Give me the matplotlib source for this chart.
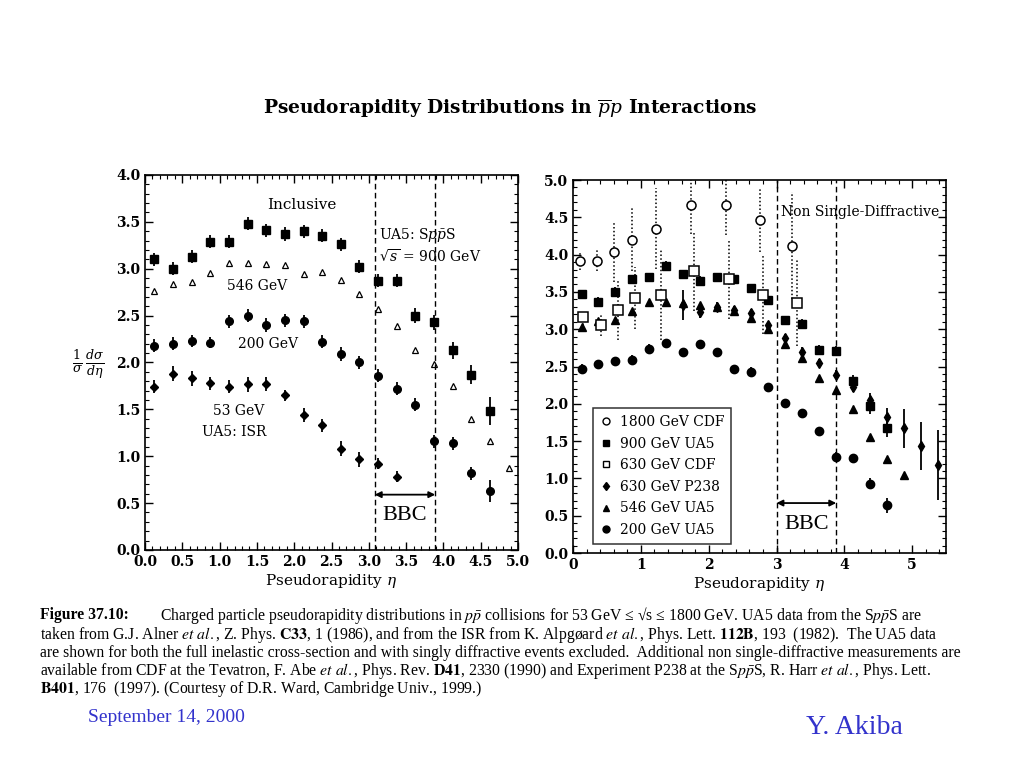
import matplotlib
matplotlib.use('Agg')
import matplotlib.pyplot as plt
from matplotlib.lines import Line2D
from matplotlib.ticker import MultipleLocator, FormatStrFormatter

# ---- left panel: inclusive (UA5 / ISR) ----
eta_left = [0.125, 0.375, 0.625, 0.875, 1.125, 1.375, 1.625, 1.875, 2.125, 2.375,
            2.625, 2.875, 3.125, 3.375, 3.625, 3.875, 4.125, 4.375, 4.625, 4.875]
inc900 = [3.10, 3.00, 3.13, 3.29, 3.29, 3.48, 3.41, 3.37, 3.40, 3.35,
          3.26, 3.02, 2.87, 2.87, 2.50, 2.43, 2.13, 1.87, 1.48]
inc900_err = [0.07, 0.07, 0.07, 0.07, 0.07, 0.07, 0.07, 0.07, 0.07, 0.07,
              0.07, 0.07, 0.07, 0.07, 0.08, 0.08, 0.09, 0.10, 0.15]
inc546 = [2.76, 2.84, 2.86, 2.95, 3.06, 3.06, 3.05, 3.04, 2.94, 2.97,
          2.88, 2.73, 2.57, 2.39, 2.13, 1.98, 1.75, 1.40, 1.16, 0.87]
inc200 = [2.18, 2.20, 2.23, 2.21, 2.44, 2.50, 2.40, 2.45, 2.44, 2.22,
          2.09, 2.00, 1.86, 1.72, 1.55, 1.16, 1.14, 0.82, 0.63]
inc200_err = [0.07, 0.07, 0.06, 0.06, 0.07, 0.07, 0.07, 0.07, 0.07, 0.07,
              0.07, 0.07, 0.07, 0.07, 0.07, 0.07, 0.07, 0.07, 0.12]
isr53 = [1.74, 1.88, 1.83, 1.78, 1.74, 1.77, 1.77, 1.65, 1.44, 1.33,
         1.08, 0.97, 0.92, 0.78]
isr53_err = [0.07, 0.08, 0.08, 0.07, 0.07, 0.08, 0.07, 0.06, 0.07, 0.07,
             0.08, 0.08, 0.06, 0.06]

# ---- right panel: non single-diffractive ----
eta_right = eta_left
nsd900 = [3.47, 3.37, 3.50, 3.67, 3.70, 3.85, 3.74, 3.65, 3.70, 3.67,
          3.55, 3.39, 3.12, 3.07, 2.72, 2.71, 2.31, 1.97, 1.68]
nsd900_err = [0.06, 0.06, 0.07, 0.06, 0.05, 0.06, 0.06, 0.06, 0.05, 0.05,
              0.06, 0.06, 0.06, 0.07, 0.07, 0.06, 0.08, 0.10, 0.12]
nsd546 = [3.03, 3.11, 3.12, 3.25, 3.36, 3.36, 3.35, 3.32, 3.30, 3.24,
          3.15, 3.00, 2.80, 2.62, 2.34, 2.18, 1.93, 1.56, 1.26, 1.05]
nsd200 = [2.47, 2.53, 2.57, 2.59, 2.74, 2.82, 2.70, 2.80, 2.70, 2.47,
          2.43, 2.22, 2.01, 1.88, 1.63, 1.29, 1.27, 0.93, 0.64]
nsd200_err = [0.06, 0.05, 0.05, 0.06, 0.06, 0.05, 0.05, 0.05, 0.05, 0.05,
              0.06, 0.05, 0.05, 0.05, 0.06, 0.06, 0.06, 0.07, 0.10]

eta_cdf1800 = [0.10, 0.36, 0.61, 0.87, 1.23, 1.74, 2.25, 2.75, 3.23]
cdf1800 = [3.92, 3.92, 4.03, 4.20, 4.35, 4.67, 4.66, 4.46, 4.12]
cdf1800_err = [0.12, 0.14, 0.40, 0.42, 0.54, 0.40, 0.40, 0.42, 0.72]

eta_cdf630 = [0.15, 0.41, 0.66, 0.92, 1.29, 1.79, 2.30, 2.80, 3.30]
cdf630 = [3.16, 3.06, 3.26, 3.42, 3.46, 3.78, 3.67, 3.46, 3.35]
cdf630_err = [0.10, 0.15, 0.40, 0.42, 0.60, 0.53, 0.53, 0.53, 0.58]

eta_p238 = [1.625, 1.875, 2.125, 2.375, 2.625, 2.875, 3.125, 3.375, 3.625, 3.875,
            4.125, 4.375, 4.625, 4.875, 5.125, 5.375]
p238 = [3.32, 3.23, 3.30, 3.26, 3.22, 3.05, 2.88, 2.70, 2.55, 2.39,
        2.23, 2.05, 1.83, 1.67, 1.43, 1.18]
p238_err = [0.20, 0.08, 0.06, 0.05, 0.05, 0.05, 0.06, 0.06, 0.05, 0.06,
            0.07, 0.09, 0.12, 0.26, 0.32, 0.47]

legend_labels = ['1800 GeV CDF', '900 GeV UA5', '630 GeV CDF',
                 '630 GeV P238', '546 GeV UA5', '200 GeV UA5']

# BBC acceptance marks
bbc_left = (3.08, 3.89)
bbc_right = (3.0, 3.88)

SERIF = 'DejaVu Serif'
TIMES = 'Liberation Serif'

plt.rcParams['font.family'] = SERIF
plt.rcParams['mathtext.fontset'] = 'dejavuserif'


def style_axes(ax, xmaj, xmin, ymaj, ymin):
    ax.xaxis.set_major_locator(MultipleLocator(xmaj))
    ax.xaxis.set_minor_locator(MultipleLocator(xmin))
    ax.yaxis.set_major_locator(MultipleLocator(ymaj))
    ax.yaxis.set_minor_locator(MultipleLocator(ymin))
    ax.tick_params(which='both', direction='in', top=True, right=True, labelsize=10)
    ax.tick_params(which='major', length=6, width=1)
    ax.tick_params(which='minor', length=3, width=0.8)
    for lbl in ax.get_xticklabels() + ax.get_yticklabels():
        lbl.set_fontweight('bold')
    for s in ax.spines.values():
        s.set_linewidth(1.2)


def err(ax, x, y, e, **kw):
    return ax.errorbar(x[:len(y)], y, yerr=e, fmt=kw.pop('marker'), color='black',
                       ecolor='black', elinewidth=1.3, capsize=0, linestyle='none', **kw)


def bbc(ax, lo, hi, yarrow, ytext):
    ax.axvline(lo, color='black', ls=(0, (4, 2.5)), lw=1)
    ax.axvline(hi, color='black', ls=(0, (4, 2.5)), lw=1)
    ax.annotate('', xy=(hi, yarrow), xytext=(lo, yarrow),
                arrowprops=dict(arrowstyle='<|-|>', color='black', lw=1.3,
                                mutation_scale=9, shrinkA=0, shrinkB=0))
    ax.text((lo + hi) / 2, ytext, 'BBC', family=TIMES, fontsize=16,
            ha='center', va='center')


fig = plt.figure(figsize=(10.24, 7.68), dpi=100)

fig.text(0.498, 0.859, r'Pseudorapidity Distributions in $\overline{p}p$ Interactions',
         fontsize=13.4, fontweight='bold', ha='center', va='center')

# left panel
ax1 = fig.add_axes([0.1416, 0.2839, 0.3643, 0.4883])
err(ax1, eta_left, inc900, inc900_err, marker='s', markersize=5.5)
ax1.plot(eta_left[:len(inc546)], inc546, '^', color='black', mfc='white',
         markersize=5, mew=0.9, linestyle='none')
err(ax1, eta_left, inc200, inc200_err, marker='o', markersize=5.5)
err(ax1, eta_left, isr53, isr53_err, marker='D', markersize=4.5)
ax1.set_xlim(0, 5)
ax1.set_ylim(0, 4)
ax1.xaxis.set_major_formatter(FormatStrFormatter('%.1f'))
ax1.yaxis.set_major_formatter(FormatStrFormatter('%.1f'))
style_axes(ax1, 0.5, 0.1, 0.5, 0.1)
ax1.set_xlabel(r'Pseudorapidity $\eta$', fontsize=11, labelpad=2)
bbc(ax1, bbc_left[0], bbc_left[1], 0.59, 0.37)
ax1.text(2.1, 3.68, 'Inclusive', fontsize=11, ha='center', va='center')
ax1.text(1.5, 2.82, '546 GeV', fontsize=10, ha='center', va='center')
ax1.text(1.65, 2.20, '200 GeV', fontsize=10, ha='center', va='center')
ax1.text(1.25, 1.48, '53 GeV', fontsize=10, ha='center', va='center')
ax1.text(1.2, 1.26, 'UA5: ISR', fontsize=10, ha='center', va='center')
ax1.text(3.13, 3.36, r'UA5: S$p\bar{p}$S', fontsize=10, ha='left', va='center')
ax1.text(3.13, 3.13, r'$\sqrt{s}$ = 900 GeV', fontsize=10, ha='left', va='center')

fig.text(0.086, 0.525, r'$\frac{1}{\sigma}\,\frac{d\sigma}{d\eta}$', fontsize=13,
         ha='center', va='center')

# right panel
ax2 = fig.add_axes([0.5596, 0.2799, 0.3643, 0.4857])
for x, y, e, m in [(eta_cdf1800, cdf1800, cdf1800_err, 'o'),
                   (eta_cdf630, cdf630, cdf630_err, 's')]:
    eb = ax2.errorbar(x, y, yerr=e, fmt=m, color='black', mfc='white', mew=1.1,
                      markersize=6.5, elinewidth=1.1, capsize=0, zorder=3)
    eb[2][0].set_linestyle((0, (1, 1.5)))
err(ax2, eta_right, nsd900, nsd900_err, marker='s', markersize=5.5)
ax2.plot(eta_right[:len(nsd546)], nsd546, '^', color='black', markersize=5.5,
         linestyle='none')
err(ax2, eta_right, nsd200, nsd200_err, marker='o', markersize=6)
err(ax2, eta_p238, p238, p238_err, marker='d', markersize=5)
ax2.set_xlim(0, 5.5)
ax2.set_ylim(0, 5)
ax2.yaxis.set_major_formatter(FormatStrFormatter('%.1f'))
style_axes(ax2, 1, 0.2, 0.5, 0.1)
ax2.set_xlabel(r'Pseudorapidity $\eta$', fontsize=11, labelpad=2)
bbc(ax2, bbc_right[0], bbc_right[1], 0.67, 0.38)
ax2.text(3.06, 4.57, 'Non Single-Diffractive', fontsize=10, ha='left', va='center')

handles = [
    Line2D([], [], marker='o', color='black', mfc='white', ls='none', markersize=5),
    Line2D([], [], marker='s', color='black', ls='none', markersize=4.5),
    Line2D([], [], marker='s', color='black', mfc='white', ls='none', markersize=5),
    Line2D([], [], marker='d', color='black', ls='none', markersize=4.5),
    Line2D([], [], marker='^', color='black', ls='none', markersize=5),
    Line2D([], [], marker='o', color='black', ls='none', markersize=5),
]
leg = ax2.legend(handles, legend_labels, loc='upper left', bbox_to_anchor=(0.054, 0.389),
                 fontsize=10, frameon=True, fancybox=False, edgecolor='black',
                 handlelength=0.8, handletextpad=0.6, labelspacing=0.55,
                 borderpad=0.5, borderaxespad=0)
leg.get_frame().set_linewidth(1.1)

# caption
cap_y = [1 - 615 / 768, 1 - 635 / 768, 1 - 653 / 768, 1 - 671 / 768, 1 - 689 / 768]
x0 = 40 / 1024
ckw = dict(family=TIMES, fontsize=11.3, ha='left', va='center', math_fontfamily='stix')
fig.text(x0, cap_y[0], 'Figure 37.10:', fontweight='bold', **ckw)
fig.text(160 / 1024, cap_y[0],
         r'Charged particle pseudorapidity distributions in $p\bar{p}$ collisions for 53 GeV '
         '≤ √s ≤ 1800 GeV. UA5 data from the S' + r'$p\bar{p}$S are', **ckw)
fig.text(x0, cap_y[1],
         r'taken from G.J. Alner $\mathit{et\ al.}$, Z. Phys. $\mathbf{C33}$, 1 (1986), and from the ISR '
         r'from K. Alpgøard $\mathit{et\ al.}$, Phys. Lett. $\mathbf{112B}$, 193  (1982).  The UA5 data', **ckw)
fig.text(x0, cap_y[2],
         'are shown for both the full inelastic cross-section and with singly diffractive events '
         'excluded.  Additional non single-diffractive measurements are', **ckw)
fig.text(x0, cap_y[3],
         r'available from CDF at the Tevatron, F. Abe $\mathit{et\ al.}$, Phys. Rev. $\mathbf{D41}$, 2330 '
         r'(1990) and Experiment P238 at the S$p\bar{p}$S, R. Harr $\mathit{et\ al.}$, Phys. Lett.', **ckw)
fig.text(x0, cap_y[4],
         r'$\mathbf{B401}$, 176  (1997). (Courtesy of D.R. Ward, Cambridge Univ., 1999.)', **ckw)

# footer
fig.text(88 / 1024, 1 - 718 / 768, 'September 14, 2000', family=TIMES, fontsize=14,
         color='#3333cc', ha='left', va='center')
fig.text(903 / 1024, 1 - 728 / 768, 'Y. Akiba', family=TIMES, fontsize=20,
         color='#3333cc', ha='right', va='center')

plt.savefig('out.png', dpi=100)
